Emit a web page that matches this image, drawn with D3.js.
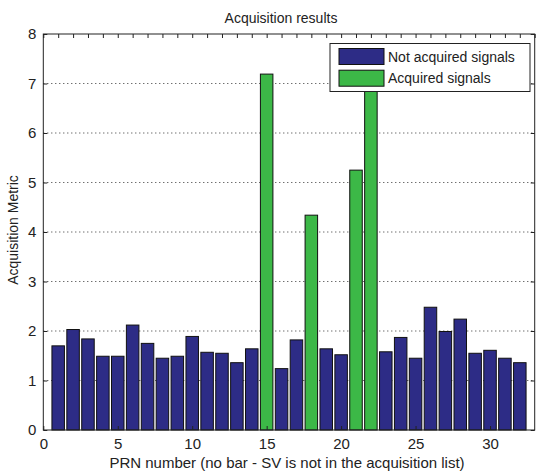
<!DOCTYPE html>
<html>
<head>
<meta charset="utf-8">
<script src="https://cdn.jsdelivr.net/npm/d3@7"></script>
<style>
  html, body { margin: 0; padding: 0; background: #fff; }
  svg { display: block; font-family: "Liberation Sans", Arial, sans-serif; }
</style>
</head>
<body>
<script>
// PRN numbers and the acquisition metric
const prns = d3.range(1, 33);
const metric = [1.70, 2.03, 1.84, 1.49, 1.49, 2.12, 1.75, 1.45, 1.49, 1.89,
                1.57, 1.55, 1.36, 1.64, 7.19, 1.24, 1.82, 4.34, 1.64, 1.52,
                5.25, 7.60, 1.58, 1.87, 1.45, 2.48, 1.99, 2.24, 1.55, 1.61,
                1.45, 1.36];
const acquired = [15, 18, 21, 22];
const xTicks = [0, 5, 10, 15, 20, 25, 30];
const yTicks = [0, 1, 2, 3, 4, 5, 6, 7, 8];
const legendItems = ["Not acquired signals", "Acquired signals"];

const W = 536, H = 472;
const blue = "#2d2c86", green = "#3cb847";

const svg = d3.select("body").append("svg").attr("width", W).attr("height", H);

const x = d3.scaleLinear().domain([0, 33]).range([43.3, 534.7]);
const y = d3.scaleLinear().domain([0, 8]).range([430, 34]);
const unit = x(1) - x(0);

// dotted grid
svg.append("g")
  .selectAll("line")
  .data(yTicks.filter(d => d > 0 && d < 8))
  .join("line")
  .attr("x1", x(0)).attr("x2", x(33))
  .attr("y1", d => y(d)).attr("y2", d => y(d))
  .attr("stroke", "#333").attr("stroke-width", 1)
  .attr("stroke-dasharray", "1,3");

// bars
const data = prns.map((p, i) => ({ prn: p, v: metric[i], acq: acquired.includes(p) }));
svg.append("g")
  .selectAll("rect")
  .data(data)
  .join("rect")
  .attr("x", d => x(d.prn) - 0.42 * unit)
  .attr("width", 0.84 * unit)
  .attr("y", d => y(d.v))
  .attr("height", d => y(0) - y(d.v))
  .attr("fill", d => d.acq ? green : blue)
  .attr("stroke", "#111").attr("stroke-width", 1);

// frame
svg.append("rect")
  .attr("x", x(0)).attr("y", y(8))
  .attr("width", x(33) - x(0)).attr("height", y(0) - y(8))
  .attr("fill", "none").attr("stroke", "#222").attr("stroke-width", 1);

// axes, ticks pointing inward
const axB = svg.append("g").attr("transform", `translate(0,${y(0)})`)
  .call(d3.axisBottom(x).tickValues(xTicks).tickSize(-4).tickPadding(8).tickFormat(d3.format("d")));
const axT = svg.append("g").attr("transform", `translate(0,${y(8)})`)
  .call(d3.axisTop(x).tickValues(d3.range(0, 34)).tickSize(-4).tickFormat(""));
const axL = svg.append("g").attr("transform", `translate(${x(0)},0)`)
  .call(d3.axisLeft(y).tickValues(yTicks).tickSize(-4).tickPadding(7).tickFormat(d3.format("d")));
const axR = svg.append("g").attr("transform", `translate(${x(33)},0)`)
  .call(d3.axisRight(y).tickValues(yTicks).tickSize(-4).tickFormat(""));
[axB, axT, axL, axR].forEach(g => {
  g.select(".domain").remove();
  g.selectAll(".tick line").attr("stroke", "#222");
  g.selectAll("text").attr("fill", "#222").style("font-size", "15px")
    .style("font-family", "'Liberation Sans', Arial, sans-serif");
});

// titles
svg.append("text")
  .attr("x", 281).attr("y", 23)
  .attr("text-anchor", "middle").attr("fill", "#222")
  .style("font-size", "14px")
  .text("Acquisition results");
svg.append("text")
  .attr("x", 287).attr("y", 468)
  .attr("text-anchor", "middle").attr("fill", "#222")
  .style("font-size", "15px")
  .text("PRN number (no bar - SV is not in the acquisition list)");
svg.append("text")
  .attr("transform", "translate(18,230) rotate(-90)")
  .attr("text-anchor", "middle").attr("fill", "#222")
  .style("font-size", "14px")
  .text("Acquisition Metric");

// legend
const lg = svg.append("g");
lg.append("rect")
  .attr("x", 330).attr("y", 43.5).attr("width", 200).attr("height", 48)
  .attr("fill", "#fff").attr("stroke", "#222");
lg.selectAll("rect.sw")
  .data(legendItems)
  .join("rect")
  .attr("class", "sw")
  .attr("x", 339).attr("y", (d, i) => 48.5 + i * 21.7)
  .attr("width", 45).attr("height", 16)
  .attr("fill", (d, i) => i ? green : blue)
  .attr("stroke", "#111");
lg.selectAll("text")
  .data(legendItems)
  .join("text")
  .attr("x", 388).attr("y", (d, i) => 61.5 + i * 21.7)
  .attr("fill", "#222")
  .style("font-size", "14px")
  .text(d => d);
</script>
</body>
</html>
